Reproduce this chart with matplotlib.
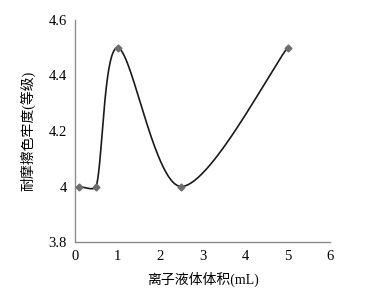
import numpy as np
import matplotlib.pyplot as plt

# data
volume_ml = [0.1, 0.5, 1.0, 2.5, 5.0]
fastness_grade = [4.0, 4.0, 4.5, 4.0, 4.5]

x_ticks = [0, 1, 2, 3, 4, 5, 6]
y_ticks = [3.8, 4.0, 4.2, 4.4, 4.6]
y_tick_labels = ["3.8", "4", "4.2", "4.4", "4.6"]

X_LIM = (0, 6)
Y_LIM = (3.8, 4.6)


def smooth_curve(xs, ys, ax_w, ax_h, n=60, f=1 / 6):
    # Excel-like smoothed line: cubic bezier with catmull-rom control points,
    # shortened where the neighbouring segment is much longer (screen coords)
    sx = (np.asarray(xs) - X_LIM[0]) / (X_LIM[1] - X_LIM[0]) * ax_w
    sy = (np.asarray(ys) - Y_LIM[0]) / (Y_LIM[1] - Y_LIM[0]) * ax_h
    pts = np.column_stack([sx, sy])
    out = []
    t = np.linspace(0, 1, n)[:, None]
    for i in range(len(pts) - 1):
        p0 = pts[max(i - 1, 0)]
        p1 = pts[i]
        p2 = pts[i + 1]
        p3 = pts[min(i + 2, len(pts) - 1)]
        d01 = np.hypot(*(p1 - p0))
        d12 = np.hypot(*(p2 - p1))
        d23 = np.hypot(*(p3 - p2))
        k1 = min(1.0, 2 * d12 / (d01 + d12))
        k2 = min(1.0, 2 * d12 / (d12 + d23))
        c1 = p1 + (p2 - p0) * f * k1
        c2 = p2 - (p3 - p1) * f * k2
        seg = ((1 - t) ** 3) * p1 + 3 * ((1 - t) ** 2) * t * c1 + 3 * (1 - t) * t ** 2 * c2 + t ** 3 * p2
        out.append(seg)
    out = np.vstack(out)
    cx = out[:, 0] / ax_w * (X_LIM[1] - X_LIM[0]) + X_LIM[0]
    cy = out[:, 1] / ax_h * (Y_LIM[1] - Y_LIM[0]) + Y_LIM[0]
    return cx, cy


serif = "Liberation Serif"
cjk = ["Liberation Serif", "Noto Sans CJK SC"]

fig = plt.figure(figsize=(3.81, 2.96), dpi=100)
ax = fig.add_axes([75 / 381, 1 - 242 / 296, 255 / 381, 222 / 296])

cx, cy = smooth_curve(volume_ml, fastness_grade, 255, 222)
ax.plot(cx, cy, color="#1a1a1a", linewidth=1.2, zorder=2)
ax.plot(volume_ml, fastness_grade, linestyle="none", marker="D", markersize=3.5,
        color="#6e6e6e", zorder=3)

ax.set_xlim(*X_LIM)
ax.set_ylim(*Y_LIM)
ax.set_xticks(x_ticks)
ax.set_yticks(y_ticks)
ax.set_xticklabels([str(v) for v in x_ticks], fontfamily=serif, fontsize=10.5)
ax.set_yticklabels(y_tick_labels, fontfamily=serif, fontsize=10.5)
ax.tick_params(length=0, pad=6)

for side in ("top", "right"):
    ax.spines[side].set_visible(False)
for side in ("left", "bottom"):
    ax.spines[side].set_color("#8c8c8c")
    ax.spines[side].set_linewidth(1.0)

ax.set_xlabel("离子液体体积(mL)", family=cjk, fontsize=10, labelpad=6)
ax.set_ylabel("耐摩擦色牢度(等级)", family=cjk, fontsize=10, labelpad=9)

fig.savefig("out.png", dpi=100)
